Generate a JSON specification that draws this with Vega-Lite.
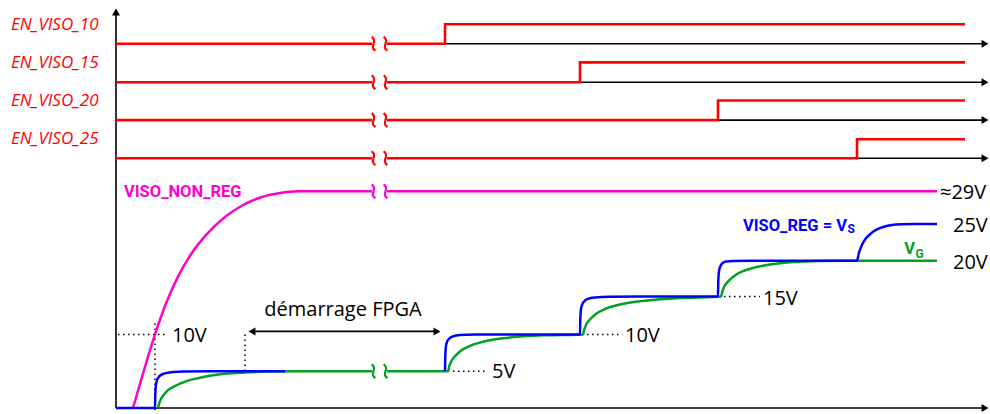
{
  "$schema": "https://vega.github.io/schema/vega-lite/v6.json",
  "width": 990,
  "height": 414,
  "autosize": {"type": "fit", "contains": "padding"},
  "padding": 0,
  "background": "white",
  "config": {"view": {"stroke": null}},
  "datasets": {
    "axes": [
      {"id": "v", "t": 116, "y": 410}, {"id": "v", "t": 116, "y": 14},
      {"id": "x", "t": 116, "y": 410}, {"id": "x", "t": 984, "y": 410},
      {"id": "b10", "t": 445, "y": 44}, {"id": "b10", "t": 984, "y": 44},
      {"id": "b15", "t": 580, "y": 82.7}, {"id": "b15", "t": 984, "y": 82.7},
      {"id": "b20", "t": 718, "y": 120.7}, {"id": "b20", "t": 984, "y": 120.7},
      {"id": "b25", "t": 857, "y": 159}, {"id": "b25", "t": 984, "y": 159},
      {"id": "fpga", "t": 252, "y": 333}, {"id": "fpga", "t": 437, "y": 333}
    ],
    "headsRight": [
      {"t": 985, "y": 44}, {"t": 985, "y": 82.7}, {"t": 985, "y": 120.7}, {"t": 985, "y": 159}, {"t": 985, "y": 410}, {"t": 437, "y": 333}
    ],
    "headsLeft": [{"t": 252, "y": 333}],
    "headsUp": [{"t": 116, "y": 12}],
    "en": [
      {"sig": "EN", "id": "e10a", "t": 116, "y": 44}, {"sig": "EN", "id": "e10a", "t": 372, "y": 44},
      {"sig": "EN", "id": "e10b", "t": 387, "y": 44}, {"sig": "EN", "id": "e10b", "t": 445, "y": 44}, {"sig": "EN", "id": "e10b", "t": 445, "y": 24.3}, {"sig": "EN", "id": "e10b", "t": 965, "y": 24.3},
      {"sig": "EN", "id": "e15a", "t": 116, "y": 82.7}, {"sig": "EN", "id": "e15a", "t": 372, "y": 82.7},
      {"sig": "EN", "id": "e15b", "t": 387, "y": 82.7}, {"sig": "EN", "id": "e15b", "t": 580, "y": 82.7}, {"sig": "EN", "id": "e15b", "t": 580, "y": 62.7}, {"sig": "EN", "id": "e15b", "t": 965, "y": 62.7},
      {"sig": "EN", "id": "e20a", "t": 116, "y": 120.7}, {"sig": "EN", "id": "e20a", "t": 372, "y": 120.7},
      {"sig": "EN", "id": "e20b", "t": 387, "y": 120.7}, {"sig": "EN", "id": "e20b", "t": 718, "y": 120.7}, {"sig": "EN", "id": "e20b", "t": 718, "y": 101}, {"sig": "EN", "id": "e20b", "t": 965, "y": 101},
      {"sig": "EN", "id": "e25a", "t": 116, "y": 159}, {"sig": "EN", "id": "e25a", "t": 372, "y": 159},
      {"sig": "EN", "id": "e25b", "t": 387, "y": 159}, {"sig": "EN", "id": "e25b", "t": 857, "y": 159}, {"sig": "EN", "id": "e25b", "t": 857, "y": 140}, {"sig": "EN", "id": "e25b", "t": 965, "y": 140}
    ],
    "squig": [
      {"sig": "EN", "id": "s10a", "t": 371.7, "y": 37}, {"sig": "EN", "id": "s10a", "t": 374.8, "y": 40}, {"sig": "EN", "id": "s10a", "t": 373.5, "y": 44}, {"sig": "EN", "id": "s10a", "t": 372.2, "y": 48}, {"sig": "EN", "id": "s10a", "t": 375.3, "y": 51},
      {"sig": "EN", "id": "s10b", "t": 383.7, "y": 37}, {"sig": "EN", "id": "s10b", "t": 386.8, "y": 40}, {"sig": "EN", "id": "s10b", "t": 385.5, "y": 44}, {"sig": "EN", "id": "s10b", "t": 384.2, "y": 48}, {"sig": "EN", "id": "s10b", "t": 387.3, "y": 51},
      {"sig": "EN", "id": "s15a", "t": 371.7, "y": 75.7}, {"sig": "EN", "id": "s15a", "t": 374.8, "y": 78.7}, {"sig": "EN", "id": "s15a", "t": 373.5, "y": 82.7}, {"sig": "EN", "id": "s15a", "t": 372.2, "y": 86.7}, {"sig": "EN", "id": "s15a", "t": 375.3, "y": 89.7},
      {"sig": "EN", "id": "s15b", "t": 383.7, "y": 75.7}, {"sig": "EN", "id": "s15b", "t": 386.8, "y": 78.7}, {"sig": "EN", "id": "s15b", "t": 385.5, "y": 82.7}, {"sig": "EN", "id": "s15b", "t": 384.2, "y": 86.7}, {"sig": "EN", "id": "s15b", "t": 387.3, "y": 89.7},
      {"sig": "EN", "id": "s20a", "t": 371.7, "y": 113.7}, {"sig": "EN", "id": "s20a", "t": 374.8, "y": 116.7}, {"sig": "EN", "id": "s20a", "t": 373.5, "y": 120.7}, {"sig": "EN", "id": "s20a", "t": 372.2, "y": 124.7}, {"sig": "EN", "id": "s20a", "t": 375.3, "y": 127.7},
      {"sig": "EN", "id": "s20b", "t": 383.7, "y": 113.7}, {"sig": "EN", "id": "s20b", "t": 386.8, "y": 116.7}, {"sig": "EN", "id": "s20b", "t": 385.5, "y": 120.7}, {"sig": "EN", "id": "s20b", "t": 384.2, "y": 124.7}, {"sig": "EN", "id": "s20b", "t": 387.3, "y": 127.7},
      {"sig": "EN", "id": "s25a", "t": 371.7, "y": 152}, {"sig": "EN", "id": "s25a", "t": 374.8, "y": 155}, {"sig": "EN", "id": "s25a", "t": 373.5, "y": 159}, {"sig": "EN", "id": "s25a", "t": 372.2, "y": 163}, {"sig": "EN", "id": "s25a", "t": 375.3, "y": 166},
      {"sig": "EN", "id": "s25b", "t": 383.7, "y": 152}, {"sig": "EN", "id": "s25b", "t": 386.8, "y": 155}, {"sig": "EN", "id": "s25b", "t": 385.5, "y": 159}, {"sig": "EN", "id": "s25b", "t": 384.2, "y": 163}, {"sig": "EN", "id": "s25b", "t": 387.3, "y": 166},
      {"sig": "NONREG", "id": "sma", "t": 371.7, "y": 185.3}, {"sig": "NONREG", "id": "sma", "t": 374.8, "y": 188.3}, {"sig": "NONREG", "id": "sma", "t": 373.5, "y": 192.3}, {"sig": "NONREG", "id": "sma", "t": 372.2, "y": 196.3}, {"sig": "NONREG", "id": "sma", "t": 375.3, "y": 199.3},
      {"sig": "NONREG", "id": "smb", "t": 383.7, "y": 185.3}, {"sig": "NONREG", "id": "smb", "t": 386.8, "y": 188.3}, {"sig": "NONREG", "id": "smb", "t": 385.5, "y": 192.3}, {"sig": "NONREG", "id": "smb", "t": 384.2, "y": 196.3}, {"sig": "NONREG", "id": "smb", "t": 387.3, "y": 199.3},
      {"sig": "VG", "id": "sga", "t": 371.7, "y": 366}, {"sig": "VG", "id": "sga", "t": 374.8, "y": 369}, {"sig": "VG", "id": "sga", "t": 373.5, "y": 373}, {"sig": "VG", "id": "sga", "t": 372.2, "y": 377}, {"sig": "VG", "id": "sga", "t": 375.3, "y": 380},
      {"sig": "VG", "id": "sgb", "t": 383.7, "y": 366}, {"sig": "VG", "id": "sgb", "t": 386.8, "y": 369}, {"sig": "VG", "id": "sgb", "t": 385.5, "y": 373}, {"sig": "VG", "id": "sgb", "t": 384.2, "y": 377}, {"sig": "VG", "id": "sgb", "t": 387.3, "y": 380}
    ],
    "curves": [
      {"sig": "VG", "id": "g1", "t": 158, "y": 410}, {"sig": "VG", "id": "g1", "t": 159.3, "y": 405}, {"sig": "VG", "id": "g1", "t": 161, "y": 401}, {"sig": "VG", "id": "g1", "t": 164, "y": 396.5}, {"sig": "VG", "id": "g1", "t": 168, "y": 392}, {"sig": "VG", "id": "g1", "t": 173, "y": 389}, {"sig": "VG", "id": "g1", "t": 180, "y": 385.5}, {"sig": "VG", "id": "g1", "t": 188, "y": 382.5}, {"sig": "VG", "id": "g1", "t": 198, "y": 380}, {"sig": "VG", "id": "g1", "t": 210, "y": 377.5}, {"sig": "VG", "id": "g1", "t": 225, "y": 375.6}, {"sig": "VG", "id": "g1", "t": 245, "y": 374.3}, {"sig": "VG", "id": "g1", "t": 270, "y": 373.4}, {"sig": "VG", "id": "g1", "t": 300, "y": 373}, {"sig": "VG", "id": "g1", "t": 372, "y": 373},
      {"sig": "VG", "id": "g2", "t": 387, "y": 373}, {"sig": "VG", "id": "g2", "t": 448, "y": 373}, {"sig": "VG", "id": "g2", "t": 449.3, "y": 368}, {"sig": "VG", "id": "g2", "t": 451, "y": 363.5}, {"sig": "VG", "id": "g2", "t": 454, "y": 359}, {"sig": "VG", "id": "g2", "t": 458, "y": 355}, {"sig": "VG", "id": "g2", "t": 463, "y": 351}, {"sig": "VG", "id": "g2", "t": 470, "y": 347.5}, {"sig": "VG", "id": "g2", "t": 479, "y": 344.5}, {"sig": "VG", "id": "g2", "t": 490, "y": 342}, {"sig": "VG", "id": "g2", "t": 503, "y": 340}, {"sig": "VG", "id": "g2", "t": 520, "y": 338.2}, {"sig": "VG", "id": "g2", "t": 545, "y": 337}, {"sig": "VG", "id": "g2", "t": 583, "y": 336},
      {"sig": "VG", "id": "g2", "t": 584.3, "y": 331}, {"sig": "VG", "id": "g2", "t": 586, "y": 326.5}, {"sig": "VG", "id": "g2", "t": 589, "y": 322}, {"sig": "VG", "id": "g2", "t": 593, "y": 318}, {"sig": "VG", "id": "g2", "t": 598, "y": 314}, {"sig": "VG", "id": "g2", "t": 605, "y": 310.5}, {"sig": "VG", "id": "g2", "t": 614, "y": 307.5}, {"sig": "VG", "id": "g2", "t": 625, "y": 305}, {"sig": "VG", "id": "g2", "t": 638, "y": 303}, {"sig": "VG", "id": "g2", "t": 655, "y": 301.2}, {"sig": "VG", "id": "g2", "t": 680, "y": 299.5}, {"sig": "VG", "id": "g2", "t": 721, "y": 298},
      {"sig": "VG", "id": "g2", "t": 722.3, "y": 293}, {"sig": "VG", "id": "g2", "t": 724, "y": 288.5}, {"sig": "VG", "id": "g2", "t": 727, "y": 284}, {"sig": "VG", "id": "g2", "t": 731, "y": 280}, {"sig": "VG", "id": "g2", "t": 736, "y": 276}, {"sig": "VG", "id": "g2", "t": 743, "y": 272.5}, {"sig": "VG", "id": "g2", "t": 752, "y": 269.5}, {"sig": "VG", "id": "g2", "t": 763, "y": 267}, {"sig": "VG", "id": "g2", "t": 776, "y": 265}, {"sig": "VG", "id": "g2", "t": 793, "y": 263.2}, {"sig": "VG", "id": "g2", "t": 818, "y": 262.2}, {"sig": "VG", "id": "g2", "t": 850, "y": 262}, {"sig": "VG", "id": "g2", "t": 937, "y": 262},
      {"sig": "NONREG", "id": "m1", "t": 133, "y": 410}, {"sig": "NONREG", "id": "m1", "t": 144, "y": 372}, {"sig": "NONREG", "id": "m1", "t": 155, "y": 336}, {"sig": "NONREG", "id": "m1", "t": 166, "y": 305}, {"sig": "NONREG", "id": "m1", "t": 178, "y": 278}, {"sig": "NONREG", "id": "m1", "t": 192, "y": 254}, {"sig": "NONREG", "id": "m1", "t": 208, "y": 234}, {"sig": "NONREG", "id": "m1", "t": 225, "y": 218}, {"sig": "NONREG", "id": "m1", "t": 243, "y": 206}, {"sig": "NONREG", "id": "m1", "t": 262, "y": 198}, {"sig": "NONREG", "id": "m1", "t": 280, "y": 194}, {"sig": "NONREG", "id": "m1", "t": 298, "y": 192.3}, {"sig": "NONREG", "id": "m1", "t": 372, "y": 192.3},
      {"sig": "NONREG", "id": "m2", "t": 387, "y": 192.3}, {"sig": "NONREG", "id": "m2", "t": 937, "y": 192.3},
      {"sig": "REG", "id": "b1", "t": 116, "y": 410}, {"sig": "REG", "id": "b1", "t": 155, "y": 410}, {"sig": "REG", "id": "b1", "t": 155.3, "y": 396}, {"sig": "REG", "id": "b1", "t": 155.8, "y": 388}, {"sig": "REG", "id": "b1", "t": 157, "y": 382}, {"sig": "REG", "id": "b1", "t": 159.5, "y": 378}, {"sig": "REG", "id": "b1", "t": 163, "y": 375.8}, {"sig": "REG", "id": "b1", "t": 170, "y": 374.2}, {"sig": "REG", "id": "b1", "t": 183, "y": 373.4}, {"sig": "REG", "id": "b1", "t": 210, "y": 373}, {"sig": "REG", "id": "b1", "t": 285, "y": 373},
      {"sig": "REG", "id": "b2", "t": 445, "y": 373}, {"sig": "REG", "id": "b2", "t": 445.3, "y": 358}, {"sig": "REG", "id": "b2", "t": 445.8, "y": 349}, {"sig": "REG", "id": "b2", "t": 447, "y": 343.5}, {"sig": "REG", "id": "b2", "t": 449.5, "y": 340}, {"sig": "REG", "id": "b2", "t": 453, "y": 338}, {"sig": "REG", "id": "b2", "t": 460, "y": 336.7}, {"sig": "REG", "id": "b2", "t": 475, "y": 336.1}, {"sig": "REG", "id": "b2", "t": 500, "y": 336}, {"sig": "REG", "id": "b2", "t": 580, "y": 336},
      {"sig": "REG", "id": "b2", "t": 580.3, "y": 321}, {"sig": "REG", "id": "b2", "t": 580.8, "y": 312}, {"sig": "REG", "id": "b2", "t": 582, "y": 306.5}, {"sig": "REG", "id": "b2", "t": 584.5, "y": 302.5}, {"sig": "REG", "id": "b2", "t": 588, "y": 300.3}, {"sig": "REG", "id": "b2", "t": 595, "y": 299}, {"sig": "REG", "id": "b2", "t": 610, "y": 298.2}, {"sig": "REG", "id": "b2", "t": 640, "y": 298}, {"sig": "REG", "id": "b2", "t": 718, "y": 298},
      {"sig": "REG", "id": "b2", "t": 718.3, "y": 283}, {"sig": "REG", "id": "b2", "t": 718.8, "y": 274}, {"sig": "REG", "id": "b2", "t": 720, "y": 268.5}, {"sig": "REG", "id": "b2", "t": 722.5, "y": 264.5}, {"sig": "REG", "id": "b2", "t": 726, "y": 262.8}, {"sig": "REG", "id": "b2", "t": 733, "y": 262.2}, {"sig": "REG", "id": "b2", "t": 750, "y": 262}, {"sig": "REG", "id": "b2", "t": 857, "y": 262},
      {"sig": "REG", "id": "b2", "t": 859, "y": 254}, {"sig": "REG", "id": "b2", "t": 862, "y": 246}, {"sig": "REG", "id": "b2", "t": 866, "y": 239.5}, {"sig": "REG", "id": "b2", "t": 871, "y": 234.5}, {"sig": "REG", "id": "b2", "t": 877, "y": 230.5}, {"sig": "REG", "id": "b2", "t": 884, "y": 227.8}, {"sig": "REG", "id": "b2", "t": 892, "y": 226.1}, {"sig": "REG", "id": "b2", "t": 902, "y": 225.3}, {"sig": "REG", "id": "b2", "t": 915, "y": 225}, {"sig": "REG", "id": "b2", "t": 937, "y": 225}
    ],
    "dots": [
      {"id": "d10h", "t": 118, "y": 336}, {"id": "d10h", "t": 168, "y": 336},
      {"id": "d10v", "t": 155, "y": 325}, {"id": "d10v", "t": 155, "y": 413},
      {"id": "dfp", "t": 245, "y": 336}, {"id": "dfp", "t": 245, "y": 373},
      {"id": "d5", "t": 453, "y": 373}, {"id": "d5", "t": 487, "y": 373},
      {"id": "d10", "t": 587, "y": 336}, {"id": "d10", "t": 622, "y": 336},
      {"id": "d15", "t": 724, "y": 298}, {"id": "d15", "t": 760, "y": 298}
    ],
    "labels": [
      {"kind": "en", "txt": "EN_VISO_10", "t": 11, "y": 30},
      {"kind": "en", "txt": "EN_VISO_15", "t": 11, "y": 68},
      {"kind": "en", "txt": "EN_VISO_20", "t": 11, "y": 106.5},
      {"kind": "en", "txt": "EN_VISO_25", "t": 11, "y": 145},
      {"kind": "volt", "txt": "≈29V", "t": 940, "y": 199.5},
      {"kind": "volt", "txt": "25V", "t": 953, "y": 233},
      {"kind": "volt", "txt": "20V", "t": 953, "y": 270.5},
      {"kind": "volt", "txt": "10V", "t": 172, "y": 344},
      {"kind": "volt", "txt": "5V", "t": 492, "y": 380},
      {"kind": "volt", "txt": "10V", "t": 625, "y": 344},
      {"kind": "volt", "txt": "15V", "t": 763, "y": 306.5},
      {"kind": "fpga", "txt": "démarrage FPGA", "t": 343, "y": 318},
      {"kind": "nonreg", "txt": "VISO_NON_REG", "t": 124, "y": 198},
      {"kind": "reg", "txt": "VISO_REG = V", "t": 847, "y": 232},
      {"kind": "regsub", "txt": "S", "t": 847.5, "y": 234},
      {"kind": "vg", "txt": "V", "t": 915, "y": 255.5},
      {"kind": "vgsub", "txt": "G", "t": 915.5, "y": 259}
    ]
  },
  "encoding": {
    "x": {"field": "t", "type": "quantitative", "scale": {"domain": [0, 990], "nice": false, "zero": false}, "axis": null},
    "y": {"field": "y", "type": "quantitative", "scale": {"domain": [0, 414], "reverse": true, "nice": false, "zero": false}, "axis": null}
  },
  "layer": [
    {
      "data": {"name": "axes"},
      "mark": {"type": "line", "color": "black", "strokeWidth": 1.6},
      "encoding": {"detail": {"field": "id"}, "order": {"value": null}}
    },
    {
      "data": {"name": "en"},
      "mark": {"type": "line", "strokeWidth": 2.6, "interpolate": "linear"},
      "encoding": {
        "color": {"field": "sig", "type": "nominal", "scale": {"domain": ["EN", "NONREG", "REG", "VG"], "range": ["#ff0000", "#ff00cc", "#0000ff", "#00a020"]}, "legend": null},
        "detail": {"field": "id"},
        "order": {"value": null}
      }
    },
    {
      "data": {"name": "dots"},
      "mark": {"type": "line", "color": "black", "strokeWidth": 1.5, "strokeDash": [1.5, 3.5]},
      "encoding": {"detail": {"field": "id"}, "order": {"value": null}}
    },
    {
      "data": {"name": "curves"},
      "transform": [{"filter": "datum.sig !== 'REG'"}],
      "mark": {"type": "line", "strokeWidth": 2.5, "interpolate": "monotone"},
      "encoding": {
        "color": {"field": "sig", "type": "nominal", "scale": {"domain": ["EN", "NONREG", "REG", "VG"], "range": ["#ff0000", "#ff00cc", "#0000ff", "#00a020"]}, "legend": null},
        "detail": {"field": "id"},
        "order": {"value": null}
      }
    },
    {
      "data": {"name": "curves"},
      "transform": [{"filter": "datum.sig === 'REG'"}],
      "mark": {"type": "line", "strokeWidth": 2.5, "interpolate": "monotone"},
      "encoding": {
        "color": {"field": "sig", "type": "nominal", "scale": {"domain": ["EN", "NONREG", "REG", "VG"], "range": ["#ff0000", "#ff00cc", "#0000ff", "#00a020"]}, "legend": null},
        "detail": {"field": "id"},
        "order": {"value": null}
      }
    },
    {
      "data": {"name": "squig"},
      "mark": {"type": "line", "strokeWidth": 2.2, "interpolate": "basis"},
      "encoding": {
        "color": {"field": "sig", "type": "nominal", "scale": {"domain": ["EN", "NONREG", "REG", "VG"], "range": ["#ff0000", "#ff00cc", "#0000ff", "#00a020"]}, "legend": null},
        "detail": {"field": "id"},
        "order": {"value": null}
      }
    },
    {
      "data": {"name": "headsRight"},
      "mark": {"type": "point", "shape": "triangle-right", "filled": true, "color": "black", "opacity": 1, "size": 64}
    },
    {
      "data": {"name": "headsLeft"},
      "mark": {"type": "point", "shape": "triangle-left", "filled": true, "color": "black", "opacity": 1, "size": 64}
    },
    {
      "data": {"name": "headsUp"},
      "mark": {"type": "point", "shape": "triangle-up", "filled": true, "color": "black", "opacity": 1, "size": 64}
    },
    {
      "data": {"name": "labels"},
      "transform": [{"filter": "datum.kind === 'en'"}],
      "mark": {"type": "text", "align": "left", "baseline": "alphabetic", "font": "Open Sans", "fontStyle": "italic", "fontSize": 17, "color": "#ff0000"},
      "encoding": {"text": {"field": "txt"}}
    },
    {
      "data": {"name": "labels"},
      "transform": [{"filter": "datum.kind === 'volt'"}],
      "mark": {"type": "text", "align": "left", "baseline": "alphabetic", "font": "Open Sans", "fontSize": 20, "color": "black"},
      "encoding": {"text": {"field": "txt"}}
    },
    {
      "data": {"name": "labels"},
      "transform": [{"filter": "datum.kind === 'fpga'"}],
      "mark": {"type": "text", "align": "center", "baseline": "alphabetic", "font": "Open Sans", "fontSize": 20, "color": "black"},
      "encoding": {"text": {"field": "txt"}}
    },
    {
      "data": {"name": "labels"},
      "transform": [{"filter": "datum.kind === 'nonreg'"}],
      "mark": {"type": "text", "align": "left", "baseline": "alphabetic", "font": "Roboto", "fontWeight": "bold", "fontSize": 16.5, "color": "#ff00cc"},
      "encoding": {"text": {"field": "txt"}}
    },
    {
      "data": {"name": "labels"},
      "transform": [{"filter": "datum.kind === 'reg'"}],
      "mark": {"type": "text", "align": "right", "baseline": "alphabetic", "font": "Roboto", "fontWeight": "bold", "fontSize": 16.5, "color": "#0000ff"},
      "encoding": {"text": {"field": "txt"}}
    },
    {
      "data": {"name": "labels"},
      "transform": [{"filter": "datum.kind === 'regsub'"}],
      "mark": {"type": "text", "align": "left", "baseline": "alphabetic", "font": "Roboto", "fontWeight": "bold", "fontSize": 12, "color": "#0000ff"},
      "encoding": {"text": {"field": "txt"}}
    },
    {
      "data": {"name": "labels"},
      "transform": [{"filter": "datum.kind === 'vg'"}],
      "mark": {"type": "text", "align": "right", "baseline": "alphabetic", "font": "Roboto", "fontWeight": "bold", "fontSize": 16.5, "color": "#00a020"},
      "encoding": {"text": {"field": "txt"}}
    },
    {
      "data": {"name": "labels"},
      "transform": [{"filter": "datum.kind === 'vgsub'"}],
      "mark": {"type": "text", "align": "left", "baseline": "alphabetic", "font": "Roboto", "fontWeight": "bold", "fontSize": 12, "color": "#00a020"},
      "encoding": {"text": {"field": "txt"}}
    }
  ]
}
